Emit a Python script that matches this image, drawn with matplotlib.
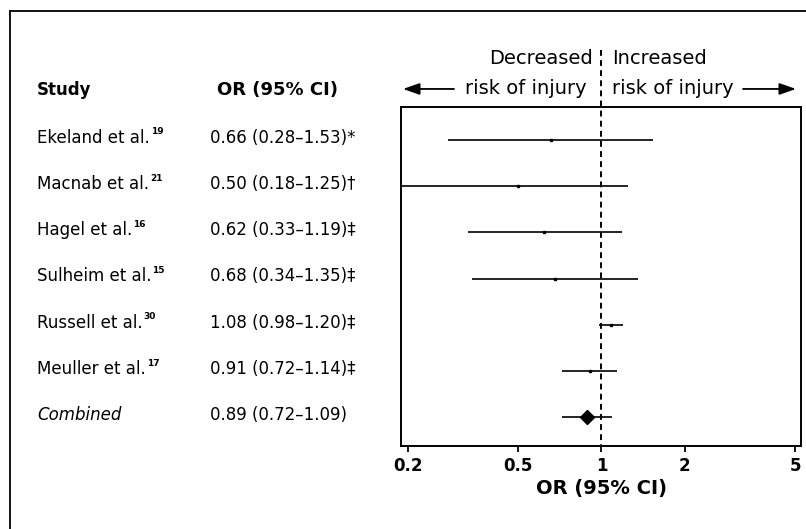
import matplotlib
matplotlib.use('Agg')
import numpy as np
import matplotlib.pyplot as plt
from matplotlib.lines import Line2D
from matplotlib.transforms import blended_transform_factory

plt.rcParams['font.family'] = ['DejaVu Sans']

# data
studies = ['Ekeland et al.', 'Macnab et al.', 'Hagel et al.', 'Sulheim et al.',
           'Russell et al.', 'Meuller et al.', 'Combined']
refs = ['19', '21', '16', '15', '30', '17', '']
odds = [0.66, 0.50, 0.62, 0.68, 1.08, 0.91, 0.89]
lower = [0.28, 0.18, 0.33, 0.34, 0.98, 0.72, 0.72]
upper = [1.53, 1.25, 1.19, 1.35, 1.20, 1.14, 1.09]
notes = ['*', '\u2020', '\u2021', '\u2021', '\u2021', '\u2021', '']
xticks = [0.2, 0.5, 1, 2, 5]

W, H = 806, 529
fig = plt.figure(figsize=(W / 100, H / 100), dpi=100)
ax = fig.add_axes([401 / W, 1 - 446 / H, 400 / W, 339 / H])

rows = np.arange(len(studies))
for i in rows:
    ax.plot([lower[i], upper[i]], [i, i], color='black', lw=1.2,
            solid_capstyle='butt', zorder=3)
    if studies[i] == 'Combined':
        ax.plot(odds[i], i, marker='D', color='black', markersize=7, zorder=4)
    else:
        ax.plot(odds[i], i, marker='s', color='black', markersize=2, zorder=4)

ax.set_xscale('log')
ax.set_xlim(0.189, 5.25)
ax.set_ylim(6.62, -0.71)
ax.set_yticks([])
ax.set_xticks(xticks)
ax.set_xticklabels(['0.2', '0.5', '1', '2', '5'], fontsize=12, fontweight='bold')
ax.xaxis.set_minor_locator(matplotlib.ticker.NullLocator())
ax.tick_params(axis='x', direction='out', length=4, width=1.3, pad=4)
ax.set_xlabel('OR (95% CI)', fontsize=14, fontweight='bold', labelpad=3)
for s in ax.spines.values():
    s.set_linewidth(1.4)

# reference line at OR = 1, running up into the header
ax.plot([1, 1], [-1.95, 6.62], color='black', lw=1.4, ls=(0, (3, 2.2)),
        clip_on=False, zorder=5)

# header arrows and labels
tr = blended_transform_factory(fig.transFigure, ax.transData)
hsize = 14
ax.text(593 / W, -1.75, 'Decreased', transform=tr, ha='right', va='center', fontsize=hsize)
ax.text(587 / W, -1.12, 'risk of injury', transform=tr, ha='right', va='center', fontsize=hsize)
ax.text(612 / W, -1.75, 'Increased', transform=tr, ha='left', va='center', fontsize=hsize)
ax.text(612 / W, -1.12, 'risk of injury', transform=tr, ha='left', va='center', fontsize=hsize)
arrow = dict(arrowstyle='-|>,head_length=1.0,head_width=0.35', color='black', lw=1.3,
             shrinkA=0, shrinkB=0)
ax.annotate('', xy=(403 / W, -1.1), xytext=(454 / W, -1.1), xycoords=tr,
            textcoords=tr, arrowprops=arrow, annotation_clip=False)
ax.annotate('', xy=(796 / W, -1.1), xytext=(743 / W, -1.1), xycoords=tr,
            textcoords=tr, arrowprops=arrow, annotation_clip=False)

# left-hand table
name_x = 37 / W
or_x = 210 / W
ax.text(name_x, -1.08, 'Study', transform=tr, ha='left', va='center',
        fontsize=12, fontweight='bold')
ax.text(217 / W, -1.08, 'OR (95% CI)', transform=tr, ha='left', va='center',
        fontsize=13, fontweight='bold')

fig.canvas.draw()
renderer = fig.canvas.get_renderer()
for i in rows:
    style = 'italic' if studies[i] == 'Combined' else 'normal'
    t = ax.text(name_x, i - 0.05, studies[i], transform=tr, ha='left', va='center',
                fontsize=12, fontstyle=style)
    if refs[i]:
        bb = t.get_window_extent(renderer)
        ax.text(bb.x1 / W + 1 / W, i - 0.17, refs[i], transform=tr, ha='left',
                va='center', fontsize=6.5, fontweight='bold')
    label = '{:.2f} ({:.2f}\u2013{:.2f}){}'.format(odds[i], lower[i], upper[i], notes[i])
    ax.text(or_x, i - 0.05, label, transform=tr, ha='left', va='center', fontsize=12)

# outer frame: only top and left edges fall inside the picture
fig.add_artist(Line2D([10 / W, 10 / W], [0, 1 - 11 / H], color='black', lw=1.3,
                      transform=fig.transFigure))
fig.add_artist(Line2D([10 / W, 1], [1 - 11 / H, 1 - 11 / H], color='black', lw=1.3,
                      transform=fig.transFigure))

fig.savefig('out.png', dpi=100)
